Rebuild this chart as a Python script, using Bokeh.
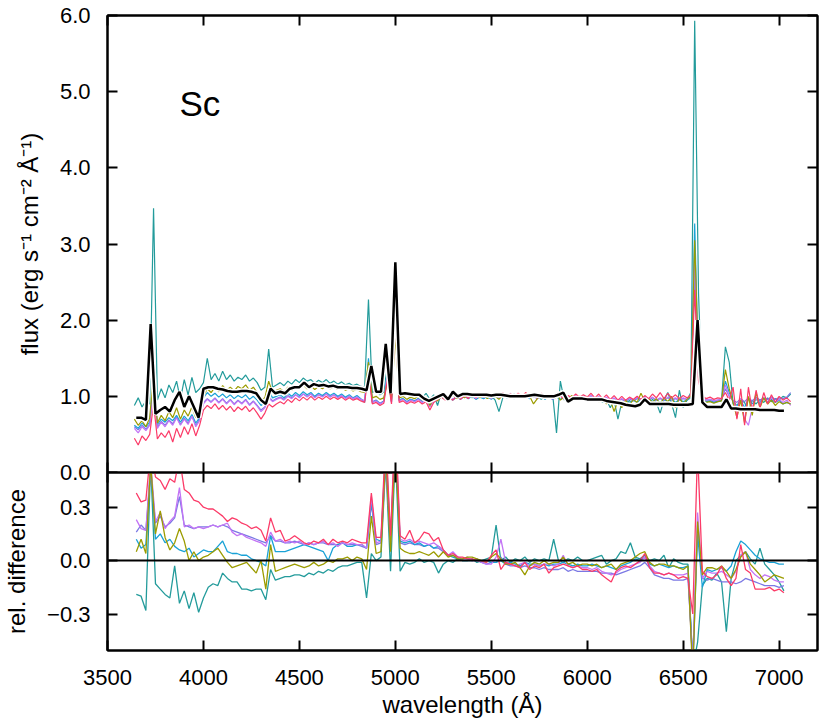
from bokeh.plotting import figure
from bokeh.layouts import column
from bokeh.models import Range1d, LinearAxis, FixedTicker, CustomJSTickFormatter, Span, Label
from bokeh.embed import file_html
from bokeh.resources import INLINE

# ---------------- data ----------------
wavelength_fine = list(range(3640, 7061, 20))   # individual spectra (top panel)
wavelength_bin = list(range(3650, 7026, 25))    # mean spectrum and relative differences

flux_teal = [0.88, 0.98, 0.86, 0.94, 0.90, 3.47, 0.95, 1.10, 0.98, 1.15, 1.05, 1.20, 0.96, 1.22, 1.02, 1.25, 1.05, 1.10,
             1.18, 1.50, 1.22, 1.30, 1.20, 1.33, 1.22, 1.28, 1.20, 1.25, 1.22, 1.28, 1.20, 1.24, 1.18, 1.08, 1.12, 1.62, 1.12, 1.15,
             1.18, 1.14, 1.20, 1.16, 1.22, 1.18, 1.24, 1.20, 1.22, 1.17, 1.21, 1.18, 1.22, 1.17, 1.20, 1.16, 1.19, 1.15, 1.17, 1.14, 1.16, 1.13, 1.12,
             2.27, 1.05, 1.08, 1.02, 1.06, 1.45, 1.02, 2.60, 1.04, 1.06, 1.02, 1.05, 1.00,
             1.03, 0.98, 1.04, 0.96, 1.02, 0.88, 1.05, 1.00, 0.98, 1.03, 0.99, 1.04, 1.00, 1.02, 0.98, 1.03, 0.99, 1.02, 0.97, 1.01,
             0.95, 0.80, 0.98, 1.02, 0.99, 1.03, 0.97, 1.01, 0.98, 1.02, 0.99, 1.01, 0.96, 1.00, 0.98, 1.02, 0.52, 1.20, 0.95, 0.99,
             0.96, 1.00, 0.97, 1.00,
             0.97, 1.00, 0.94, 0.98, 0.92, 0.96, 0.85, 0.95, 0.70, 0.92, 0.88, 0.95, 0.85, 0.92, 0.95, 0.98, 0.90, 0.96, 0.92, 0.78,
             0.95, 1.05, 0.90, 0.72, 1.08, 0.85, 0.95,
             1.05, 5.93, 2.35, 0.96, 0.93, 0.94, 0.92, 0.94, 0.95,
             1.65, 1.45, 0.90, 0.85, 0.95, 0.92, 0.80, 0.95, 0.90, 0.96, 0.92, 0.98, 0.93, 0.97, 0.95, 1.00, 0.98, 1.03]
flux_olive = [0.70, 0.62, 0.68, 0.60, 0.72, 1.30, 0.65, 0.75, 0.68, 0.80, 0.72, 0.85, 0.70, 0.82, 0.74, 0.86, 0.72, 0.80,
              1.00, 1.10, 1.05, 1.12, 1.06, 1.14, 1.08, 1.12, 1.07, 1.13, 1.10, 1.15, 1.08, 1.12, 1.05, 0.95, 0.98, 1.20, 1.05, 1.08,
              1.10, 1.06, 1.12, 1.08, 1.13, 1.10, 1.15, 1.10, 1.14, 1.09, 1.13, 1.10, 1.14, 1.10, 1.12, 1.09, 1.12, 1.08, 1.10, 1.07, 1.09, 1.06, 1.05,
              1.45, 0.98, 1.00, 0.96, 0.98, 1.20, 0.96, 1.80, 0.98, 1.00, 0.96, 0.99, 0.97,
              1.00, 0.95, 0.99, 0.88, 0.97, 0.94, 1.00, 0.97, 0.99, 1.02, 0.97, 1.01, 0.98, 1.02, 0.99, 1.03, 0.98, 1.01, 0.97, 1.03,
              1.00, 0.96, 1.02, 0.99, 1.03, 0.98, 1.02, 0.99, 1.04, 1.00, 0.90, 0.97, 1.01, 0.98, 1.02, 0.99, 1.03, 0.95, 0.99, 0.97,
              1.01, 0.96, 1.00, 0.97,
              1.00, 0.95, 0.98, 0.93, 0.97, 0.90, 0.96, 0.80, 0.94, 0.85, 0.95, 0.88, 0.96, 0.92, 1.04, 0.94, 0.97, 0.92, 0.97, 0.90,
              0.98, 0.93, 1.00, 0.85, 0.98, 0.90, 0.96,
              1.00, 3.05, 1.40, 0.94, 0.92, 0.93, 0.91, 0.93, 0.94,
              1.35, 1.10, 0.92, 0.72, 0.95, 0.65, 1.00, 0.75, 1.05, 0.85, 0.98, 0.90, 0.95, 0.88, 0.93, 0.90, 0.92, 0.90]
flux_blue = [0.62, 0.58, 0.65, 0.60, 0.66, 1.20, 0.63, 0.70, 0.66, 0.72, 0.68, 0.75, 0.66, 0.74, 0.68, 0.76, 0.65, 0.72,
             0.98, 1.05, 1.00, 1.04, 0.99, 1.03, 0.98, 1.02, 0.97, 1.01, 0.98, 1.02, 0.96, 1.00, 0.95, 0.88, 0.92, 1.08, 0.98, 1.00,
             1.02, 0.98, 1.04, 1.00, 1.05, 1.01, 1.06, 1.02, 1.05, 1.00, 1.04, 1.01, 1.05, 1.01, 1.04, 1.00, 1.03, 0.99, 1.02, 0.98, 1.01, 0.97, 0.92,
             1.50, 0.92, 0.95, 0.90, 0.94, 1.35, 0.93, 2.20, 0.95, 0.97, 0.93, 0.96, 0.94,
             0.97, 0.93, 0.96, 0.90, 0.95, 0.97, 0.99, 0.96, 0.98, 0.95, 0.99, 0.96, 1.00, 0.97, 1.00, 0.96, 0.99, 0.97, 1.00, 0.96,
             1.00, 0.97, 1.01, 0.98, 1.00, 0.97, 1.01, 0.98, 1.00, 0.97, 1.01, 0.98, 1.00, 0.96, 1.00, 0.97, 0.99, 0.96, 1.00, 0.97,
             0.99, 0.96, 0.98, 0.96,
             0.98, 0.95, 0.97, 0.94, 0.97, 0.93, 0.96, 0.91, 0.95, 0.92, 0.95, 0.91, 0.95, 0.92, 0.96, 0.94, 0.97, 0.93, 0.96, 0.92,
             0.96, 0.93, 0.97, 0.92, 0.96, 0.93, 0.95,
             0.98, 3.27, 1.30, 0.95, 0.93, 0.94, 0.92, 0.93, 0.94,
             1.20, 1.05, 0.93, 0.88, 0.95, 0.85, 0.97, 0.90, 0.96, 0.92, 0.97, 0.93, 0.96, 0.92, 0.95, 0.90, 0.92, 0.90]
flux_purple = [0.58, 0.52, 0.60, 0.55, 0.62, 1.10, 0.58, 0.66, 0.60, 0.68, 0.62, 0.72, 0.62, 0.70, 0.63, 0.74, 0.60, 0.68,
               0.90, 0.96, 0.92, 0.97, 0.91, 0.96, 0.90, 0.95, 0.89, 0.94, 0.90, 0.95, 0.88, 0.93, 0.87, 0.80, 0.85, 0.98, 0.93, 0.96,
               0.98, 0.95, 1.00, 0.97, 1.02, 0.98, 1.03, 0.99, 1.03, 0.98, 1.02, 0.99, 1.03, 0.99, 1.02, 0.98, 1.01, 0.97, 1.00, 0.97, 0.99, 0.96, 0.94,
               1.40, 0.92, 0.94, 0.90, 0.93, 1.30, 0.92, 2.10, 0.94, 0.96, 0.92, 0.95, 0.93,
               0.96, 0.92, 0.95, 0.86, 0.94, 0.98, 1.01, 0.97, 1.00, 0.96, 1.01, 0.97, 1.02, 0.98, 1.01, 0.97, 1.03, 0.99, 1.01, 0.97,
               1.02, 0.98, 1.03, 0.99, 1.04, 0.98, 1.02, 0.99, 1.03, 0.98, 1.01, 0.97, 1.02, 0.98, 1.01, 0.97, 1.00, 1.04, 0.98, 1.00,
               0.97, 1.01, 0.98, 1.00,
               0.98, 1.01, 0.97, 1.00, 0.96, 0.99, 0.95, 0.98, 0.94, 0.97, 0.94, 0.98, 0.95, 0.99, 0.96, 1.00, 0.96, 0.99, 0.95, 0.98,
               0.95, 0.99, 0.96, 0.98, 0.95, 0.98, 0.96,
               1.00, 2.80, 1.30, 0.98, 0.95, 0.96, 0.94, 0.95, 0.96,
               1.15, 1.00, 0.94, 0.80, 0.96, 0.70, 0.62, 0.85, 0.98, 0.90, 0.97, 0.92, 0.98, 0.93, 0.96, 0.92, 0.95, 0.88]
flux_slate = [0.60, 0.56, 0.62, 0.57, 0.63, 1.15, 0.60, 0.67, 0.62, 0.69, 0.64, 0.73, 0.63, 0.71, 0.65, 0.74, 0.62, 0.70,
              0.92, 0.97, 0.93, 0.98, 0.92, 0.97, 0.91, 0.96, 0.90, 0.95, 0.91, 0.96, 0.89, 0.94, 0.88, 0.82, 0.86, 1.00, 0.94, 0.97,
              0.99, 0.96, 1.01, 0.98, 1.02, 0.99, 1.03, 1.00, 1.03, 0.99, 1.02, 1.00, 1.03, 0.99, 1.02, 0.99, 1.01, 0.98, 1.00, 0.97, 0.99, 0.96, 0.94,
              1.42, 0.93, 0.95, 0.91, 0.94, 1.32, 0.93, 2.15, 0.95, 0.97, 0.93, 0.96, 0.94,
              0.97, 0.94, 0.96, 0.91, 0.95, 0.98, 1.00, 0.97, 0.99, 0.96, 1.00, 0.97, 1.01, 0.98, 1.00, 0.97, 1.01, 0.98, 1.00, 0.97,
              1.01, 0.98, 1.02, 0.99, 1.02, 0.98, 1.01, 0.98, 1.01, 0.98, 1.00, 0.97, 1.00, 0.97, 0.99, 0.96, 0.99, 1.01, 0.97, 0.99,
              0.96, 0.99, 0.96, 0.98,
              0.98, 1.00, 0.96, 0.99, 0.95, 0.98, 0.94, 0.97, 0.94, 0.96, 0.93, 0.97, 0.94, 0.97, 0.95, 0.98, 0.95, 0.98, 0.95, 0.97,
              0.95, 0.98, 0.95, 0.97, 0.95, 0.97, 0.96,
              0.99, 2.60, 1.25, 0.97, 0.95, 0.96, 0.94, 0.95, 0.96,
              1.10, 1.00, 0.95, 0.92, 0.97, 0.93, 0.98, 0.94, 0.99, 0.95, 0.98, 0.96, 0.99, 0.96, 0.98, 0.97, 0.99, 1.05]
flux_pink = [0.45, 0.36, 0.48, 0.42, 0.50, 0.90, 0.44, 0.52, 0.46, 0.55, 0.40, 0.58, 0.46, 0.60, 0.50, 0.64, 0.48, 0.62,
             0.82, 0.88, 0.84, 0.90, 0.83, 0.88, 0.82, 0.87, 0.80, 0.86, 0.82, 0.87, 0.80, 0.85, 0.78, 0.70, 0.78, 0.90, 0.86, 0.90,
             0.93, 0.90, 0.96, 0.92, 0.98, 0.94, 0.99, 0.95, 1.00, 0.95, 0.99, 0.96, 1.00, 0.96, 0.99, 0.96, 0.99, 0.95, 0.98, 0.95, 0.97, 0.94, 0.92,
             1.30, 0.90, 0.92, 0.88, 0.91, 1.25, 0.90, 2.00, 0.92, 0.94, 0.90, 0.93, 0.91,
             0.94, 0.90, 0.93, 0.82, 0.92, 0.96, 0.99, 0.95, 0.98, 0.95, 1.00, 0.96, 1.01, 0.97, 1.03, 0.98, 1.04, 0.99, 1.02, 0.98,
             1.04, 1.00, 1.05, 0.99, 1.03, 0.99, 1.04, 1.00, 1.05, 0.99, 1.03, 0.98, 1.04, 0.99, 1.02, 0.98, 1.03, 1.00, 0.97, 1.01,
             0.98, 1.03, 0.99, 1.02,
             0.99, 1.04, 0.98, 1.03, 0.97, 1.02, 0.96, 1.01, 0.95, 1.00, 0.95, 0.99, 0.96, 1.00, 0.96, 1.01, 0.97, 1.03, 0.98, 1.05,
             0.97, 1.04, 0.98, 1.02, 0.97, 1.01, 0.98,
             1.02, 2.40, 1.20, 1.00, 0.97, 0.99, 0.96, 0.98, 0.97,
             1.05, 0.95, 1.12, 0.70, 1.10, 0.62, 1.12, 0.80, 1.08, 0.85, 1.05, 0.90, 1.02, 0.92, 1.00, 0.95, 0.98, 0.93]

flux_mean = [0.72, 0.72, 0.69, 1.95, 0.77, 0.82, 0.86, 0.80, 0.95, 1.06, 0.86, 1.00, 0.86, 0.72,
             1.10, 1.12, 1.12, 1.10, 1.09, 1.07, 1.06, 1.06, 1.07, 1.07, 1.06, 1.04, 0.95, 0.90, 1.10, 1.04,
             1.06, 1.04, 1.10, 1.12, 1.12, 1.18, 1.12, 1.16, 1.14, 1.15, 1.13, 1.14, 1.12, 1.12, 1.12, 1.11, 1.11, 1.10, 1.08,
             1.40, 1.06, 1.06, 1.69, 1.04, 2.76, 1.03, 1.04, 1.03, 1.02,
             1.02, 0.97, 0.94, 0.97, 1.00, 1.03, 0.96, 1.06, 1.00, 1.03, 1.03, 1.02, 1.02, 1.02, 1.02, 1.01, 1.02, 1.02, 1.01, 1.00,
             1.00, 1.00, 1.00, 1.01, 1.02, 1.01, 1.00, 1.00, 1.00, 1.02, 1.05, 0.93, 0.97, 0.97, 0.97,
             0.96, 0.96, 0.96, 0.96, 0.94, 0.93, 0.92, 0.91, 0.89, 0.88, 0.87, 0.89, 0.96, 0.90, 0.90, 0.90, 0.90, 0.90, 0.89, 0.89, 0.89,
             0.89, 0.90, 2.00, 0.92, 0.86, 0.86, 0.86, 0.86,
             0.96, 0.84, 0.84, 0.83, 0.83, 0.83, 0.83, 0.82, 0.82, 0.82, 0.82, 0.81, 0.81]

rel_pink = [0.38, 0.33, 0.34, 0.62, 0.47, 0.45, 0.40, 0.46, 0.44, 0.58, 0.40, 0.38, 0.34, 0.33,
            0.30, 0.29, 0.29, 0.27, 0.25, 0.22, 0.24, 0.23, 0.21, 0.20, 0.18, 0.19, 0.17, 0.11, 0.24, 0.16,
            0.17, 0.11, 0.12, 0.14, 0.12, 0.10, 0.09, 0.11, 0.10, 0.12, 0.09, 0.12, 0.10, 0.11, 0.10, 0.12, 0.11, 0.10, 0.10,
            0.38, 0.13, 0.13, 0.70, 0.14, 0.80, 0.14, 0.12, 0.17, 0.10,
            0.12, 0.16, 0.15, 0.11, 0.13, 0.06, 0.03, 0.04, 0.02, 0.02, 0.01, 0.01, 0.00, 0.00, -0.01, 0.03, 0.06, -0.05, -0.01, -0.02,
            -0.03, -0.04, -0.01, -0.05, -0.03, -0.04, -0.02, -0.07, -0.04, -0.03, -0.02, -0.03, -0.04, -0.03, -0.05,
            -0.05, -0.06, -0.05, -0.08, -0.10, -0.12, -0.06, -0.04, -0.03, -0.04, -0.02, 0.00, 0.04, -0.04, -0.07, -0.07, -0.08, -0.07, -0.08, -0.10, -0.09,
            -0.10, -0.30, 0.62, -0.06, -0.09, -0.10, -0.08, -0.03,
            -0.10, -0.14, -0.10, 0.09, -0.05, -0.07, -0.16, -0.16, -0.16, -0.15, -0.17, -0.16, -0.18]
rel_purple = [0.23, 0.18, 0.17, 0.55, 0.22, 0.27, 0.18, 0.22, 0.25, 0.41, 0.19, 0.20, 0.18, 0.19,
              0.18, 0.19, 0.20, 0.19, 0.20, 0.21, 0.16, 0.14, 0.15, 0.13, 0.12, 0.11, 0.10, 0.08, 0.16, 0.11,
              0.12, 0.10, 0.11, 0.10, 0.11, 0.09, 0.10, 0.09, 0.10, 0.11, 0.09, 0.10, 0.08, 0.10, 0.09, 0.10, 0.09, 0.09, 0.07,
              0.36, 0.10, 0.11, 0.60, 0.11, 0.75, 0.12, 0.11, 0.12, 0.10,
              0.11, 0.10, 0.09, 0.10, 0.08, 0.06, 0.03, 0.05, 0.02, 0.01, 0.02, 0.00, 0.01, -0.01, -0.02, -0.02, 0.02, 0.12, -0.01, -0.02,
              -0.03, -0.02, -0.01, -0.03, -0.02, -0.03, -0.02, -0.02, -0.03, -0.02, 0.03, -0.03, -0.04, -0.03, -0.04,
              -0.04, -0.05, -0.04, -0.06, -0.07, -0.08, -0.07, -0.05, -0.04, -0.03, -0.02, -0.01, 0.02, -0.03, -0.06, -0.07, -0.08, -0.07, -0.08, -0.08, -0.08,
              -0.07, -0.60, 0.27, -0.10, -0.06, -0.07, -0.07, -0.06,
              -0.08, -0.10, -0.06, 0.03, 0.05, -0.05, -0.08, -0.10, -0.08, -0.09, -0.11, -0.12, -0.12]
rel_slate = [0.16, 0.20, 0.17, 0.50, 0.21, 0.25, 0.19, 0.21, 0.24, 0.36, 0.20, 0.19, 0.18, 0.19,
             0.19, 0.19, 0.20, 0.19, 0.20, 0.19, 0.17, 0.16, 0.15, 0.14, 0.13, 0.12, 0.11, 0.10, 0.14, 0.11,
             0.11, 0.10, 0.10, 0.11, 0.10, 0.09, 0.10, 0.09, 0.10, 0.10, 0.09, 0.09, 0.09, 0.10, 0.09, 0.09, 0.09, 0.08, 0.07,
             0.33, 0.09, 0.10, 0.55, 0.10, 0.70, 0.10, 0.09, 0.10, 0.09,
             0.09, 0.08, 0.09, 0.07, 0.07, 0.05, 0.03, 0.03, 0.02, 0.01, 0.01, 0.00, 0.00, -0.01, -0.02, -0.01, -0.01, 0.02, -0.02, -0.03,
             -0.03, -0.04, -0.03, -0.04, -0.04, -0.05, -0.04, -0.05, -0.05, -0.05, -0.04, -0.06, -0.05, -0.06, -0.06,
             -0.06, -0.06, -0.06, -0.07, -0.07, -0.07, -0.08, -0.07, -0.06, -0.05, -0.04, -0.03, -0.01, -0.04, -0.08, -0.09, -0.10, -0.10, -0.11, -0.11, -0.11,
             -0.10, -0.55, 0.20, -0.10, -0.11, -0.10, -0.11, -0.12,
             -0.12, -0.12, -0.13, -0.12, -0.10, -0.11, -0.12, -0.13, -0.14, -0.14, -0.14, -0.15, -0.14]
rel_blue = [0.12, 0.07, 0.09, 0.55, 0.12, 0.15, 0.10, 0.12, 0.08, 0.06, 0.05, 0.07, 0.02, 0.04,
            0.06, 0.05, 0.05, 0.08, 0.11, 0.05, 0.04, 0.04, 0.03, 0.03, 0.01, 0.00, -0.01, -0.03, 0.14, 0.05,
            0.05, 0.05, 0.06, 0.07, 0.08, 0.09, 0.08, 0.07, 0.06, 0.05, 0.00, 0.07, 0.09, 0.10, 0.08, 0.08, 0.09, 0.09, 0.07,
            0.32, 0.12, 0.11, 0.65, 0.12, 0.70, 0.11, 0.10, 0.11, 0.09,
            0.10, 0.08, 0.09, 0.07, 0.08, 0.06, 0.03, 0.02, 0.01, 0.00, 0.00, 0.00, 0.01, -0.01, 0.00, -0.01, -0.01, 0.00, -0.02, -0.01,
            -0.02, -0.03, -0.01, -0.02, -0.02, -0.03, -0.02, -0.03, -0.02, -0.02, -0.01, -0.02, -0.03, -0.02, -0.03,
            -0.03, -0.02, -0.03, -0.04, -0.03, -0.04, -0.05, -0.03, -0.02, -0.01, 0.01, 0.00, 0.02, -0.02, -0.03, -0.02, -0.03, -0.04, -0.03, -0.04, -0.04,
            -0.03, -0.60, 0.15, -0.15, -0.05, -0.06, -0.05, -0.04,
            -0.06, -0.03, 0.05, 0.11, 0.09, 0.06, 0.03, 0.01, 0.00, -0.01, -0.01, -0.02, -0.02]
rel_olive = [0.05, 0.12, 0.04, 0.55, 0.15, 0.28, 0.13, 0.06, 0.10, 0.18, 0.11, 0.00, 0.05, 0.00,
             0.02, 0.03, 0.05, 0.07, 0.03, -0.01, -0.04, -0.03, -0.02, -0.01, -0.04, -0.07, 0.00, -0.16, 0.09, -0.06,
             -0.05, -0.04, -0.03, -0.02, -0.03, -0.04, -0.03, -0.01, -0.03, -0.02, 0.00, -0.01, 0.01, 0.01, 0.02, 0.00, 0.02, 0.01, -0.05,
             0.25, 0.04, 0.05, 0.60, 0.05, 0.65, 0.07, 0.05, 0.04, 0.04,
             0.05, 0.04, 0.03, 0.05, 0.02, 0.05, 0.02, 0.03, 0.01, 0.01, 0.02, 0.02, 0.01, 0.00, -0.01, 0.02, 0.04, 0.01, -0.02, -0.02,
             -0.01, -0.04, -0.08, -0.03, -0.01, -0.02, 0.00, -0.02, -0.01, -0.01, 0.02, -0.02, -0.01, -0.03, -0.02,
             -0.02, -0.03, -0.02, -0.04, -0.03, -0.02, -0.05, -0.02, -0.01, 0.00, 0.02, 0.04, 0.05, -0.01, -0.03, -0.02, -0.02, -0.03, -0.03, -0.04, -0.05,
             -0.03, -0.65, 0.22, -0.08, -0.04, -0.04, -0.05, -0.03,
             -0.06, -0.10, -0.05, 0.02, 0.05, -0.02, -0.05, -0.08, -0.12, -0.10, -0.08, -0.09, -0.10]
rel_teal = [-0.19, -0.20, -0.28, 0.55, -0.13, -0.16, -0.19, -0.21, -0.03, -0.24, -0.17, -0.27, -0.18, -0.29,
            -0.21, -0.15, -0.13, -0.14, -0.07, -0.10, -0.12, -0.12, -0.16, -0.16, -0.17, -0.16, -0.16, -0.22, -0.05, -0.11,
            -0.10, -0.09, -0.09, -0.08, -0.08, -0.09, -0.07, -0.08, -0.06, -0.07, -0.05, -0.06, -0.04, -0.03, -0.03, -0.02, -0.01, -0.01, -0.21,
            0.04, 0.00, 0.02, 0.55, -0.06, 0.60, -0.06, -0.01, -0.02, -0.01,
            0.01, -0.01, 0.00, -0.01, -0.07, -0.02, 0.00, -0.01, 0.01, 0.00, 0.00, 0.01, -0.01, 0.00, 0.01, 0.02, 0.20, 0.00, 0.02, -0.01,
            0.01, 0.00, 0.02, -0.01, 0.01, 0.00, 0.01, 0.00, 0.12, 0.00, -0.01, 0.01, 0.00, 0.02, 0.00,
            0.00, 0.01, 0.02, 0.03, -0.02, 0.00, 0.01, 0.05, 0.04, 0.10, 0.02, 0.01, 0.03, 0.00, 0.01, 0.00, 0.03, -0.04, 0.01, -0.01, -0.02,
            -0.02, -0.60, -0.46, -0.14, -0.10, -0.11, -0.07, -0.12,
            -0.40, -0.10, 0.00, 0.03, 0.05, 0.01, -0.02, 0.07, -0.02, -0.05, -0.08, -0.12, -0.17]

x_ticks = [3500, 4000, 4500, 5000, 5500, 6000, 6500, 7000]
flux_ticks = [0, 1, 2, 3, 4, 5, 6]
rel_ticks = [-0.3, 0.0, 0.3]

for arr in (flux_teal, flux_olive, flux_blue, flux_purple, flux_slate, flux_pink):
    assert len(arr) == len(wavelength_fine), len(arr)
for arr in (flux_mean, rel_pink, rel_purple, rel_slate, rel_blue, rel_olive, rel_teal):
    assert len(arr) == len(wavelength_bin), len(arr)

# ---------------- style ----------------
FONT = "Liberation Sans"
COLORS = {"teal": "#239b9b", "slate": "#7b78e4", "blue": "#1aa2d6",
          "purple": "#c374f5", "olive": "#9c9c00", "pink": "#fb3b68"}

fmt = CustomJSTickFormatter(code="return (tick < -1e-9 ? '\\u2212' : '') + Math.abs(tick).toFixed(1);")
blank_fmt = CustomJSTickFormatter(code="return '';")


def style_axis(ax, ticks, show_labels, formatter=None):
    ax.ticker = FixedTicker(ticks=ticks)
    ax.axis_line_color = "black"
    ax.axis_line_width = 2
    ax.major_tick_in = 10
    ax.major_tick_out = 0
    ax.major_tick_line_color = "black"
    ax.major_tick_line_width = 2
    ax.minor_tick_line_color = None
    ax.major_label_text_font = FONT
    ax.major_label_text_color = "black"
    ax.axis_label_text_font = FONT
    ax.axis_label_text_font_style = "normal"
    ax.axis_label_text_color = "black"
    ax.axis_label_text_font_size = "24px"
    if show_labels:
        ax.major_label_text_font_size = "22px"
        if formatter is not None:
            ax.formatter = formatter
    else:
        ax.formatter = blank_fmt
        ax.major_label_text_font_size = "1px"
        ax.major_label_standoff = 0


x_rng = Range1d(3500, 7200)

# ---------------- top panel ----------------
p1 = figure(x_range=x_rng, y_range=Range1d(0, 6), frame_width=710, frame_height=457,
            min_border_left=100, min_border_right=10, min_border_top=15, min_border_bottom=12,
            output_backend="svg", toolbar_location=None)
p1.xgrid.visible = False
p1.ygrid.visible = False
p1.outline_line_color = "black"
p1.outline_line_width = 2
p1.outline_line_alpha = 1

style_axis(p1.xaxis[0], x_ticks, False)
style_axis(p1.yaxis[0], flux_ticks, True, fmt)
p1.yaxis[0].major_label_standoff = 17
p1.yaxis[0].axis_label = "flux (erg s\u207b\u00b9 cm\u207b\u00b2 \u00c5\u207b\u00b9)"
p1.yaxis[0].axis_label_standoff = 14
top_ax = LinearAxis()
p1.add_layout(top_ax, "above")
style_axis(top_ax, x_ticks, False)
right_ax = LinearAxis()
p1.add_layout(right_ax, "right")
style_axis(right_ax, flux_ticks, False)

for name, arr in (("teal", flux_teal), ("slate", flux_slate), ("blue", flux_blue),
                  ("purple", flux_purple), ("olive", flux_olive), ("pink", flux_pink)):
    p1.line(wavelength_fine, arr, line_color=COLORS[name], line_width=1.2)
p1.line(wavelength_bin, flux_mean, line_color="white", line_width=5.5)
p1.line(wavelength_bin, flux_mean, line_color="black", line_width=2.5)

p1.add_layout(Label(x=3875, y=4.85, text="Sc", text_font=FONT, text_font_size="35px",
                    text_color="black", text_baseline="alphabetic"))

# ---------------- bottom panel ----------------
p2 = figure(x_range=x_rng, y_range=Range1d(-0.505, 0.495), frame_width=710, frame_height=178,
            min_border_left=100, min_border_right=10, min_border_top=0, min_border_bottom=10,
            output_backend="svg", toolbar_location=None, styles={"margin-top": "-12px"})
p2.border_fill_alpha = 0
p2.xgrid.visible = False
p2.ygrid.visible = False
p2.outline_line_color = "black"
p2.outline_line_width = 2
p2.outline_line_alpha = 1

style_axis(p2.xaxis[0], x_ticks, True)
p2.xaxis[0].major_label_standoff = 19
p2.xaxis[0].axis_label = "wavelength (\u00c5)"
p2.xaxis[0].axis_label_standoff = 3
style_axis(p2.yaxis[0], rel_ticks, True, fmt)
p2.yaxis[0].major_label_standoff = 17
p2.yaxis[0].axis_label = "rel. difference"
p2.yaxis[0].axis_label_standoff = 14
top_ax2 = LinearAxis()
p2.add_layout(top_ax2, "above")
style_axis(top_ax2, x_ticks, False)
right_ax2 = LinearAxis()
p2.add_layout(right_ax2, "right")
style_axis(right_ax2, rel_ticks, False)

for name, arr in (("teal", rel_teal), ("slate", rel_slate), ("blue", rel_blue),
                  ("purple", rel_purple), ("olive", rel_olive), ("pink", rel_pink)):
    p2.line(wavelength_bin, arr, line_color=COLORS[name], line_width=1.3)
p2.add_layout(Span(location=0, dimension="width", line_color="black", line_width=2))

layout = column(p1, p2)
open("out.html", "w").write(file_html(layout, INLINE))
